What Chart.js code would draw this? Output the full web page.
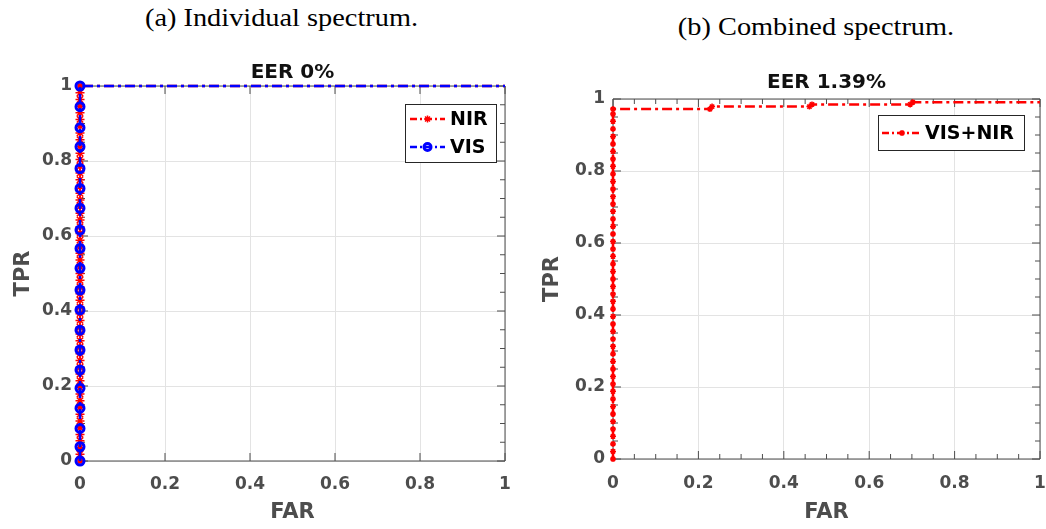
<!DOCTYPE html>
<html>
<head>
<meta charset="utf-8">
<script src="https://cdn.jsdelivr.net/npm/chart.js"></script>
<style>
  body { margin: 0; background: #fff; width: 1046px; height: 529px; position: relative; overflow: hidden; }
  .cap { position: absolute; font-family: 'Liberation Serif', 'Times New Roman', serif; font-size: 26px; line-height: 26px;
         text-align: center; color: #000; transform: scaleX(1.09); white-space: nowrap; }
  .box { position: absolute; top: 0; height: 529px; }
</style>
</head>
<body>
<div class="cap" style="left:0;width:563px;top:5px">(a) Individual spectrum.</div>
<div class="cap" style="left:586px;width:460px;top:14px">(b) Combined spectrum.</div>
<div class="box" style="left:0;width:530px"><canvas id="chartA"></canvas></div>
<div class="box" style="left:530px;width:516px"><canvas id="chartB"></canvas></div>
<script>
// tick values
const majorTicks = [0, 0.2, 0.4, 0.6, 0.8, 1];
const minorTicks = [0.05, 0.1, 0.15, 0.25, 0.3, 0.35, 0.45, 0.5, 0.55, 0.65, 0.7, 0.75, 0.85, 0.9, 0.95];

// (a) NIR curve
const nirFar = [0, 0, 0, 0, 0, 0, 0, 0, 0, 0, 0, 0, 0, 0, 0, 0, 0, 0, 0, 0, 0, 0, 0, 0, 0, 0, 0, 0, 0,
                0, 0, 0, 0, 0, 0, 0, 0, 0, 0, 0, 0, 0, 0, 0, 0, 0, 0, 0, 0, 0, 0, 0, 0, 0, 0, 0, 0, 1];
const nirTpr = [0, 0.018, 0.036, 0.054, 0.071, 0.089, 0.107, 0.125, 0.143, 0.161, 0.179, 0.196, 0.214, 0.232,
                0.25, 0.268, 0.286, 0.304, 0.321, 0.339, 0.357, 0.375, 0.393, 0.411, 0.429, 0.446, 0.464, 0.482,
                0.5, 0.518, 0.536, 0.554, 0.571, 0.589, 0.607, 0.625, 0.643, 0.661, 0.679, 0.696, 0.714, 0.732,
                0.75, 0.768, 0.786, 0.804, 0.821, 0.839, 0.857, 0.875, 0.893, 0.911, 0.929, 0.946, 0.964, 0.982, 1, 1];

// (a) VIS curve
const visFar = [0, 0, 0, 0, 0, 0, 0, 0, 0, 0, 0, 0, 0, 0, 0, 0, 0, 0, 0, 0, 1];
const visTpr = [0, 0.038, 0.087, 0.141, 0.194, 0.243, 0.296, 0.349, 0.403, 0.456, 0.514, 0.567, 0.616,
                0.674, 0.727, 0.78, 0.838, 0.889, 0.945, 1, 1];

// (b) VIS+NIR curve
const combFar = [0, 0, 0, 0, 0, 0, 0, 0, 0, 0, 0, 0, 0, 0, 0, 0, 0, 0, 0, 0, 0, 0, 0, 0, 0, 0, 0, 0, 0, 0,
                 0, 0, 0, 0, 0, 0, 0, 0, 0, 0, 0, 0, 0, 0, 0, 0, 0, 0,
                 0.227, 0.232, 0.46, 0.466, 0.696, 0.702, 1];
const combTpr = [0, 0.021, 0.042, 0.063, 0.083, 0.104, 0.125, 0.146, 0.167, 0.188, 0.208, 0.229, 0.25, 0.271,
                 0.292, 0.313, 0.333, 0.354, 0.375, 0.396, 0.417, 0.438, 0.458, 0.479, 0.5, 0.521, 0.542, 0.563,
                 0.583, 0.604, 0.625, 0.646, 0.667, 0.688, 0.708, 0.729, 0.75, 0.771, 0.792, 0.813, 0.833, 0.854,
                 0.875, 0.896, 0.917, 0.938, 0.958, 0.972,
                 0.972, 0.979, 0.979, 0.985, 0.985, 0.991, 0.991];

const pts = (xs, ys) => xs.map((x, i) => ({x: x, y: ys[i]}));
const dashDot = [10, 4, 3, 4];
const tickFont = {family: 'DejaVu Sans', size: 17, weight: 'bold'};
const axisFont = {family: 'DejaVu Sans', size: 21, weight: 'bold'};
const grey = '#4d4d4d';

// no marker on the far end point of the curve
const markerSize = r => (c => (c.raw && c.raw.x === 1 ? 0 : r));

function drawMarker(ctx, style, r, x, y, color, w) {
  ctx.save();
  ctx.setLineDash([]);
  ctx.strokeStyle = color;
  ctx.lineWidth = w;
  ctx.beginPath();
  if (style === 'circle') {
    ctx.arc(x, y, r, 0, Math.PI * 2);
  } else {
    const d = r * 0.707;
    ctx.moveTo(x - r, y); ctx.lineTo(x + r, y);
    ctx.moveTo(x, y - r); ctx.lineTo(x, y + r);
    ctx.moveTo(x - d, y - d); ctx.lineTo(x + d, y + d);
    ctx.moveTo(x - d, y + d); ctx.lineTo(x + d, y - d);
  }
  ctx.stroke();
  ctx.restore();
}

// matlab style box, inward ticks, title and legend
const matlabAxes = {
  id: 'matlabAxes',
  beforeDatasetsDraw(chart, args, o) {
    const {ctx, chartArea: a, scales: {x, y}} = chart;
    ctx.save();
    ctx.strokeStyle = grey;
    ctx.lineWidth = 1;
    ctx.beginPath();
    ctx.rect(a.left, a.top, a.right - a.left, a.bottom - a.top);
    const tick = (vals, len, doX, doY) => {
      vals.forEach(v => {
        if (doX) {
          const px = x.getPixelForValue(v);
          ctx.moveTo(px, a.bottom); ctx.lineTo(px, a.bottom - len);
          ctx.moveTo(px, a.top); ctx.lineTo(px, a.top + len);
        }
        if (doY) {
          const py = y.getPixelForValue(v);
          ctx.moveTo(a.left, py); ctx.lineTo(a.left + len, py);
          ctx.moveTo(a.right, py); ctx.lineTo(a.right - len, py);
        }
      });
    };
    tick(majorTicks, 8, true, true);
    tick(minorTicks, 5, o.xMinor, o.yMinor);
    ctx.stroke();
    ctx.restore();
  },
  afterDraw(chart, args, o) {
    const {ctx, chartArea: a} = chart;
    ctx.save();
    // title
    ctx.font = 'bold 20px "DejaVu Sans"';
    ctx.fillStyle = '#111';
    ctx.textAlign = 'center';
    ctx.textBaseline = 'alphabetic';
    ctx.fillText(o.title, (a.left + a.right) / 2, a.top - o.titleGap);
    // legend
    const L = o.legend;
    const bx = a.right - L.right - L.w, by = a.top + L.top;
    ctx.fillStyle = '#fff';
    ctx.fillRect(bx, by, L.w, L.h);
    ctx.strokeStyle = '#262626';
    ctx.lineWidth = 1;
    ctx.strokeRect(bx + 0.5, by + 0.5, L.w, L.h);
    ctx.font = 'bold 19px "DejaVu Sans"';
    ctx.textAlign = 'left';
    ctx.textBaseline = 'middle';
    chart.data.datasets.forEach((ds, i) => {
      const cy = by + L.first + i * L.row;
      ctx.beginPath();
      ctx.setLineDash([7, 3, 2, 3]);
      ctx.strokeStyle = ds.borderColor;
      ctx.lineWidth = ds.borderWidth;
      ctx.moveTo(bx + L.pad, cy);
      ctx.lineTo(bx + L.pad + L.sample, cy);
      ctx.stroke();
      drawMarker(ctx, ds.pointStyle, ds.legendMarker, bx + L.pad + L.sample / 2, cy, ds.borderColor, ds.pointBorderWidth);
      ctx.fillStyle = '#000';
      ctx.fillText(ds.label, bx + L.text, cy + 1);
    });
    ctx.restore();
  }
};

function axes(yWidth, xHeight, xPad, yTitlePad) {
  const common = {
    type: 'linear', min: 0, max: 1,
    afterBuildTicks: s => { s.ticks = majorTicks.map(v => ({value: v})); },
    grid: {color: '#e3e3e3', drawTicks: false},
    border: {display: false}
  };
  const fmt = v => String(+Number(v).toFixed(2));
  return {
    x: Object.assign({}, common, {
      ticks: {color: grey, font: tickFont, padding: xPad, maxRotation: 0, callback: fmt},
      title: {display: true, text: 'FAR', color: grey, font: axisFont, padding: {top: 0, bottom: 4}},
      afterFit: s => { s.height = xHeight; s.paddingLeft = 0; s.paddingRight = 0; }
    }),
    y: Object.assign({}, common, {
      ticks: {color: grey, font: tickFont, padding: 8, callback: fmt},
      title: {display: true, text: 'TPR', color: grey, font: axisFont, padding: {top: yTitlePad, bottom: 0}},
      afterFit: s => { s.width = yWidth; s.paddingTop = 0; s.paddingBottom = 0; }
    })
  };
}

new Chart(document.getElementById('chartA'), {
  type: 'scatter',
  data: {
    datasets: [{
      label: 'NIR',
      data: pts(nirFar, nirTpr),
      showLine: true,
      borderColor: '#ff0000',
      borderWidth: 2.5,
      borderDash: dashDot,
      pointStyle: 'star',
      pointRadius: markerSize(4.5),
      legendMarker: 3.5,
      pointBorderColor: '#ff0000',
      pointBorderWidth: 1.5,
      pointBackgroundColor: 'rgba(0,0,0,0)',
      clip: false,
      order: 2
    }, {
      label: 'VIS',
      data: pts(visFar, visTpr),
      showLine: true,
      borderColor: '#0000ff',
      borderWidth: 2.5,
      borderDash: dashDot,
      pointStyle: 'circle',
      pointRadius: markerSize(4),
      legendMarker: 3.5,
      pointBorderColor: '#0000ff',
      pointBorderWidth: 3,
      pointBackgroundColor: 'rgba(0,0,0,0)',
      clip: false,
      order: 1
    }]
  },
  options: {
    responsive: true,
    maintainAspectRatio: false,
    animation: false,
    events: [],
    layout: {padding: {top: 86, right: 25, left: 0, bottom: 0}},
    scales: axes(80, 68, 13, 11),
    plugins: {
      legend: {display: false},
      tooltip: {enabled: false},
      matlabAxes: {
        title: 'EER 0%', titleGap: 8, xMinor: false, yMinor: true,
        legend: {right: 9, top: 18, w: 91, h: 58, first: 15, row: 28, pad: 5, sample: 35, text: 45}
      }
    }
  },
  plugins: [matlabAxes]
});

new Chart(document.getElementById('chartB'), {
  type: 'scatter',
  data: {
    datasets: [{
      label: 'VIS+NIR',
      data: pts(combFar, combTpr),
      showLine: true,
      borderColor: '#ff0000',
      borderWidth: 2.5,
      borderDash: dashDot,
      pointStyle: 'star',
      pointRadius: markerSize(3),
      legendMarker: 3,
      pointBorderColor: '#ff0000',
      pointBorderWidth: 1.5,
      pointBackgroundColor: 'rgba(0,0,0,0)',
      clip: false
    }]
  },
  options: {
    responsive: true,
    maintainAspectRatio: false,
    animation: false,
    events: [],
    layout: {padding: {top: 99, right: 6, left: 0, bottom: 0}},
    scales: axes(83, 70, 14, 10),
    plugins: {
      legend: {display: false},
      tooltip: {enabled: false},
      matlabAxes: {
        title: 'EER 1.39%', titleGap: 11, xMinor: true, yMinor: true,
        legend: {right: 16, top: 16, w: 146, h: 35, first: 18, row: 28, pad: 4, sample: 40, text: 47}
      }
    }
  },
  plugins: [matlabAxes]
});
</script>
</body>
</html>
